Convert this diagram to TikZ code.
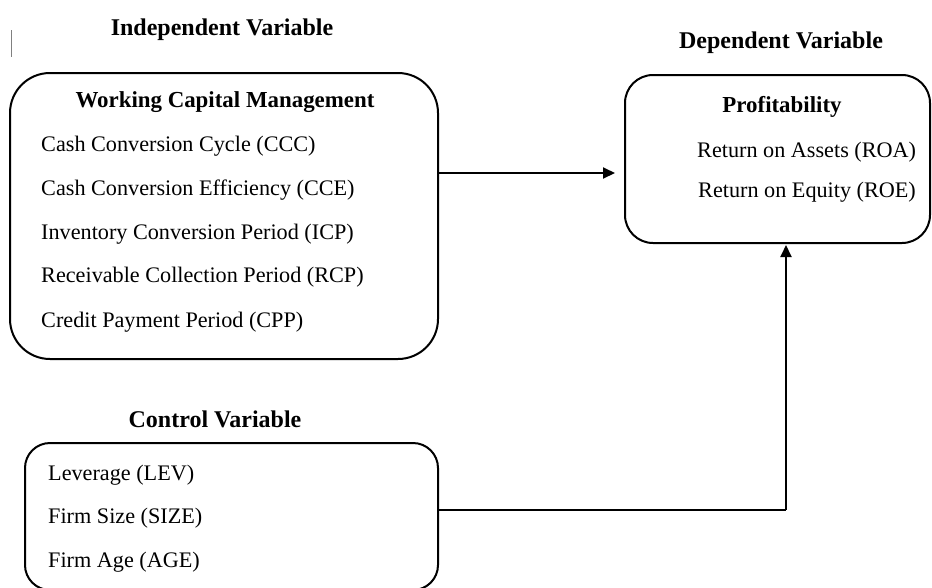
\documentclass[tikz,border=0pt]{standalone}
\usepackage{fontspec}
\setmainfont{Liberation Serif}
\usetikzlibrary{arrows.meta}
\begin{document}
\begin{tikzpicture}[x=1pt,y=-1pt,
  box/.style={draw=black, line width=2pt, inner sep=0pt},
  arr/.style={draw=black, line width=2pt, -{Triangle[length=12pt,width=11pt]}},
  line/.style={draw=black, line width=2pt},
  ttl/.style={font=\fontsize{24}{28}\selectfont\bfseries, anchor=base, inner sep=0pt},
  hd/.style={font=\fontsize{22.9}{27}\selectfont\bfseries, anchor=base, inner sep=0pt},
  itm/.style={font=\fontsize{22.2}{26}\selectfont, anchor=base west, inner sep=0pt}]
\clip (0,0) rectangle (932,587);
% titles
\node[ttl] (tind) at (222,35) {Independent Variable};
\node[ttl] (tdep) at (781,48) {Dependent Variable};
\node[ttl] (tctl) at (215,427) {Control Variable};
\draw[gray, line width=1pt] (11,30) -- (11,57);
% boxes
\node[box, rounded corners=40pt, minimum width=428pt, minimum height=286pt] (wcm) at (224,216) {};
\node[box, rounded corners=28pt, minimum width=305pt, minimum height=168pt] (prof) at (777.5,159) {};
\node[box, rounded corners=25pt, minimum width=413pt, minimum height=147pt] (ctl) at (231.5,516.5) {};
% box texts
\node[hd] (hwcm) at (225,107) {Working Capital Management};
\node[itm] (i1) at (41,151) {Cash Conversion Cycle (CCC)};
\node[itm] (i2) at (41,195) {Cash Conversion Efficiency (CCE)};
\node[itm] (i3) at (41,239) {Inventory Conversion Period (ICP)};
\node[itm] (i4) at (41,282) {Receivable Collection Period (RCP)};
\node[itm] (i5) at (41,327) {Credit Payment Period (CPP)};
\node[hd] (hprof) at (782,112) {Profitability};
\node[itm] (p1) at (697,157) {Return on Assets (ROA)};
\node[itm] (p2) at (698,197) {Return on Equity (ROE)};
\node[itm] (c1) at (48,480) {Leverage (LEV)};
\node[itm] (c2) at (48,523) {Firm Size (SIZE)};
\node[itm] (c3) at (48,567) {Firm Age (AGE)};
% connectors
\coordinate (tipA) at (615,173);
\draw[arr] (wcm.east |- tipA) -- (tipA);
\coordinate (tipB) at (786,245);
\coordinate (turn) at (786,510);
\draw[line] (ctl.east |- turn) -- (turn);
\draw[arr] (turn) -- (tipB);
\end{tikzpicture}
\end{document}
